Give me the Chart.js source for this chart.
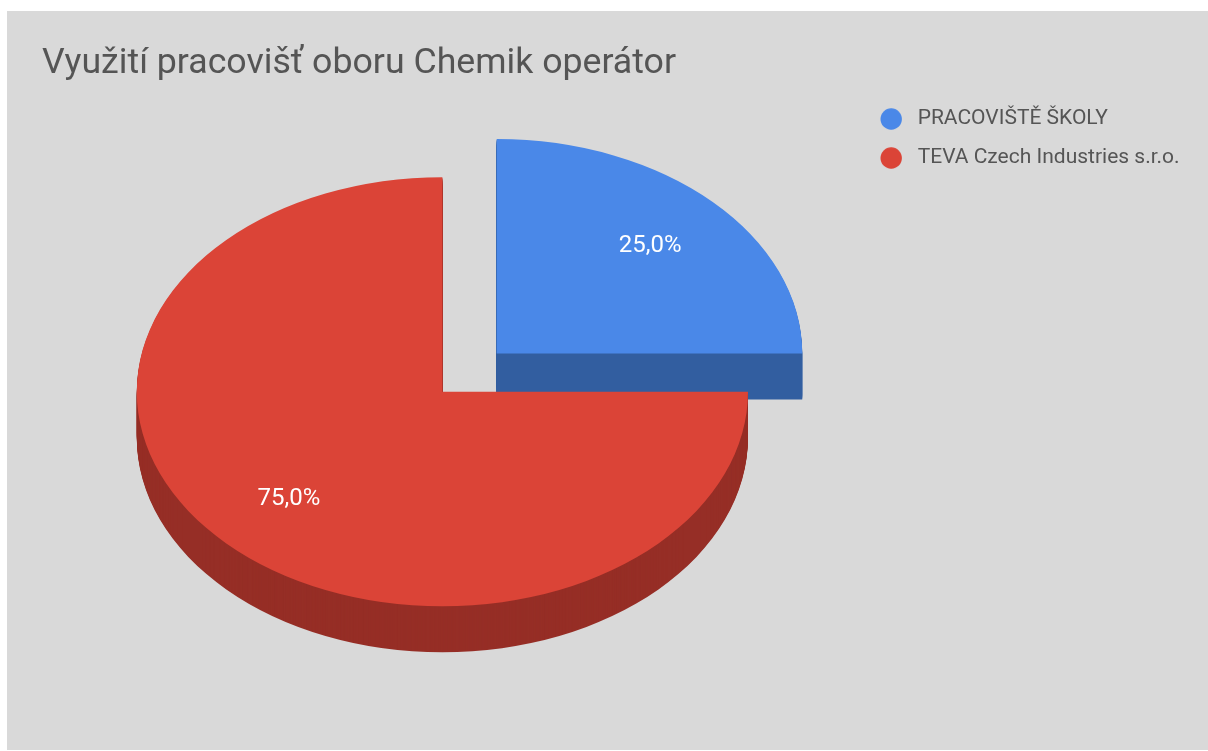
<!DOCTYPE html>
<html>
<head>
<meta charset="utf-8">
<script src="https://cdn.jsdelivr.net/npm/chart.js@4"></script>
<style>
  html, body { margin: 0; padding: 0; background: #fff; }
  #wrap { position: absolute; left: 7px; top: 11px; width: 1201px; height: 739px; background: #d9d9d9; }
  canvas { display: block; }
</style>
</head>
<body>
<div id="wrap"><canvas id="chart" width="1201" height="739"></canvas></div>
<script>
const labels = ['PRACOVIŠTĚ ŠKOLY', 'TEVA Czech Industries s.r.o.'];
const values = [25, 75];

const topColors = ['#4a88e8', '#db4437'];
const sideColors = ['#335ea0', '#962e26'];
const textColor = '#555555';
const tilt = 0.702;   // vertical squash of the pie
const depth = 46;     // height of the side wall

// legend dot: drawn a bit right of the image centre so the text gap matches
function dot(color) {
  const c = document.createElement('canvas');
  c.width = 38;
  c.height = 22;
  const g = c.getContext('2d');
  g.fillStyle = color;
  g.beginPath();
  g.arc(19 + 7.2, 11, 10.7, 0, Math.PI * 2);
  g.fill();
  return c;
}
const dots = topColors.map(dot);

function squash(ctx, cy) {
  ctx.translate(0, cy);
  ctx.scale(1, tilt);
  ctx.translate(0, -cy);
}

function percent(v, total) {
  return (v / total * 100).toFixed(1).replace('.', ',') + '%';
}

const pie3d = {
  id: 'pie3d',
  beforeDatasetsDraw(chart) {
    const ctx = chart.ctx;
    const arcs = chart.getDatasetMeta(0).data;
    arcs.forEach((arc, i) => {
      const side = Object.create(arc);
      side.options = Object.assign({}, arc.options, { backgroundColor: sideColors[i], borderColor: sideColors[i] });
      for (let d = depth; d > 0; d--) {
        ctx.save();
        ctx.translate(0, d);
        squash(ctx, arc.y);
        side.draw(ctx);
        ctx.restore();
      }
      ctx.save();
      squash(ctx, arc.y);
      arc.draw(ctx);
      ctx.restore();
    });

    const total = values.reduce((a, b) => a + b, 0);
    ctx.save();
    ctx.fillStyle = '#ffffff';
    ctx.font = '24px Roboto';
    ctx.textAlign = 'center';
    ctx.textBaseline = 'middle';
    arcs.forEach((arc, i) => {
      const mid = (arc.startAngle + arc.endAngle) / 2;
      const dist = (arc.options.offset || 0) / 4 + arc.outerRadius * 0.71;
      const x = arc.x + Math.cos(mid) * dist;
      const y = arc.y + Math.sin(mid) * dist * tilt;
      ctx.fillText(percent(values[i], total), x, y);
    });
    ctx.restore();
    return false;
  }
};

new Chart(document.getElementById('chart'), {
  type: 'pie',
  data: {
    labels: labels,
    datasets: [{
      data: values,
      backgroundColor: topColors,
      borderWidth: 0,
      offset: [307, 0],
      clip: false
    }]
  },
  options: {
    responsive: false,
    animation: false,
    events: [],
    radius: 305.6,
    layout: { padding: { left: 35, right: 18.4, top: 0, bottom: 57.1 } },
    plugins: {
      title: {
        display: true,
        text: 'Využití pracovišť oboru Chemik operátor',
        align: 'start',
        color: textColor,
        font: { family: 'Roboto', size: 35.7, weight: 'normal' },
        padding: { top: 31.4, bottom: 5.3 }
      },
      legend: {
        position: 'right',
        align: 'start',
        fullSize: false,
        labels: {
          usePointStyle: true,
          pointStyleWidth: 46.4,
          padding: 18,
          color: textColor,
          font: { family: 'Roboto', size: 21 },
          generateLabels: chart => chart.data.labels.map((text, i) => ({
            text: text,
            fillStyle: topColors[i],
            strokeStyle: topColors[i],
            lineWidth: 0,
            fontColor: textColor,
            pointStyle: dots[i],
            hidden: false,
            index: i
          }))
        }
      },
      tooltip: { enabled: false }
    }
  },
  plugins: [pie3d]
});
</script>
</body>
</html>
